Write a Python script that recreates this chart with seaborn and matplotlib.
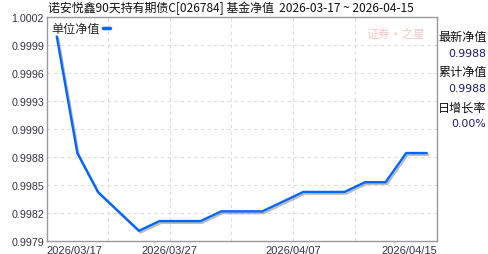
import numpy as np
import pandas as pd
import matplotlib
matplotlib.use("Agg")
import matplotlib.pyplot as plt
import matplotlib.patheffects as pe
from matplotlib.lines import Line2D
import seaborn as sns

# ---- data ----
dates = ["2026/03/17", "2026/03/20", "2026/03/23", "2026/03/24", "2026/03/25",
         "2026/03/26", "2026/03/27", "2026/03/30", "2026/03/31", "2026/04/01",
         "2026/04/02", "2026/04/03", "2026/04/07", "2026/04/08", "2026/04/09",
         "2026/04/10", "2026/04/13", "2026/04/14", "2026/04/15"]
nav = [1.0000, 0.9988, 0.9984, 0.9982, 0.9980,
       0.9981, 0.9981, 0.9981, 0.9982, 0.9982,
       0.9982, 0.9983, 0.9984, 0.9984, 0.9984,
       0.9985, 0.9985, 0.9988, 0.9988]
ytick_labels = ["0.9979", "0.9982", "0.9985", "0.9988", "0.9990",
                "0.9993", "0.9996", "0.9999", "1.0002"]
xtick_dates = ["2026/03/17", "2026/03/27", "2026/04/07", "2026/04/15"]
title = "诺安悦鑫90天持有期债C[026784] 基金净值  2026-03-17 ~ 2026-04-15"
series_name = "单位净值"
side_labels = ["最新净值", "累计净值", "日增长率"]
side_values = ["0.9988", "0.9988", "0.00%"]

df = pd.DataFrame({"date": dates, "nav": nav})
df["pos"] = np.arange(len(df))

sns.set_style("white")
plt.rcParams["font.family"] = ["Noto Sans CJK SC", "DejaVu Sans"]

fig = plt.figure(figsize=(4.88, 2.55), dpi=100)
ax = fig.add_axes([46.5 / 488, 1 - 241.5 / 255, (437 - 46.5) / 488, (241.5 - 18) / 255])

line_color = "#0066ff"
sns.lineplot(data=df, x="pos", y="nav", ax=ax, color=line_color, lw=1.7,
             legend=False,
             path_effects=[pe.SimpleLineShadow(offset=(1.0, -1.3), shadow_color="#888888", alpha=0.55),
                           pe.Normal()])

n = len(df)
ax.set_xlim(-0.5, n - 0.5)
ymin, ymax = float(ytick_labels[0]), float(ytick_labels[-1])
ax.set_ylim(ymin, ymax)
yt = np.linspace(ymin, ymax, len(ytick_labels))
ax.set_yticks(yt)
ax.set_yticklabels(ytick_labels, family="Liberation Sans", fontsize=7.7, color="#333344")

# x ticks: first at left edge, middle on band boundaries, last at right edge
idx = [dates.index(d) for d in xtick_dates]
xpos = [-0.5, idx[1] - 0.5, idx[2] - 0.5, n - 0.5]
ax.set_xticks(xpos)
xl = ax.set_xticklabels(xtick_dates, family="Liberation Sans", fontsize=8, color="#333355")
xl[0].set_ha("left")
xl[-1].set_ha("right")
ax.tick_params(axis="both", length=0)
ax.tick_params(axis="y", pad=1.8)
ax.tick_params(axis="x", pad=3.5)
ax.set_xlabel("")
ax.set_ylabel("")

# grid
ax.grid(False)
for y in yt[1:-1]:
    ax.axhline(y, color="#dddddd", lw=0.8, ls=(0, (3, 3)), zorder=0)
for x in [2.5, 5.5, 8.5, 11.5, 14.5]:
    ax.axvline(x, color="#dddddd", lw=0.8, ls=(0, (3, 3)), zorder=0)

for s in ax.spines.values():
    s.set_color("#999999")
    s.set_linewidth(1.0)
    s.set_visible(True)

# legend
handle = Line2D([0], [0], color=line_color, lw=2.5)
leg = ax.legend([handle], [series_name], loc="upper left", frameon=False,
                markerfirst=False, handlelength=0.5, handletextpad=0.3,
                borderaxespad=0.15, borderpad=0.25, fontsize=8.7)

# watermark
fig.text(396 / 488, 1 - 34 / 255, "证券·之星", color="#f7c6c6", fontsize=8.5,
         ha="center", va="center", style="italic")

# title
fig.text(48 / 488, 1 - 8 / 255, title, fontsize=8.6, ha="left", va="center", color="#111111")

# side panel
ys = [37.7, 72.7, 108.3]
for lab, val, y in zip(side_labels, side_values, ys):
    fig.text(438 / 488, 1 - y / 255, lab, fontsize=8.7, ha="left", va="center", color="#111111")
    fig.text(486.5 / 488, 1 - (y + 16) / 255, val, fontsize=7.8, ha="right", va="center",
             color="#1a1a66", family="DejaVu Sans")

fig.savefig("out.png", dpi=100)
